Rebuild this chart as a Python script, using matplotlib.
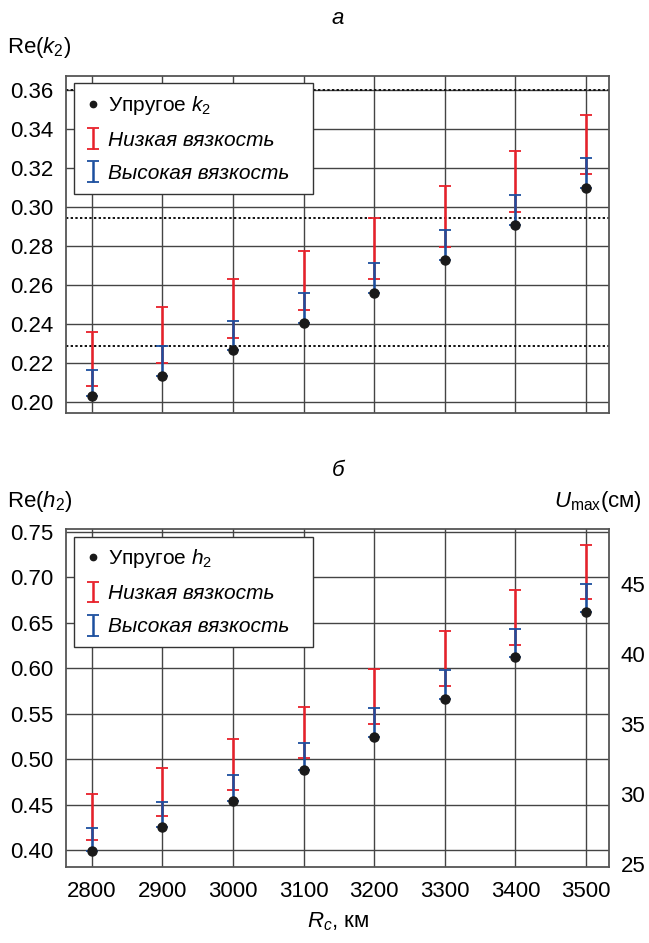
import numpy as np
import matplotlib
matplotlib.use("Agg")
import matplotlib.pyplot as plt

plt.rcParams['font.family'] = ['Liberation Sans', 'DejaVu Sans']
plt.rcParams['mathtext.fontset'] = 'custom'
plt.rcParams['mathtext.rm'] = 'Liberation Sans'
plt.rcParams['mathtext.it'] = 'Liberation Sans:italic'

# radius of the core, km
rc = [2800, 2900, 3000, 3100, 3200, 3300, 3400, 3500]

# panel a: Re(k2)
k2_elastic = [0.203, 0.2135, 0.2265, 0.2407, 0.2559, 0.2727, 0.2909, 0.3099]
k2_low_min = [0.2082, 0.2202, 0.2328, 0.2473, 0.2631, 0.2796, 0.2976, 0.3171]
k2_low_max = [0.236, 0.2486, 0.2629, 0.2774, 0.2945, 0.3109, 0.3285, 0.3472]
k2_high_max = [0.2163, 0.2289, 0.2417, 0.2557, 0.2714, 0.2882, 0.3063, 0.3253]
k2_levels = [0.229, 0.2945, 0.360]

# panel b: Re(h2)
h2_elastic = [0.3993, 0.4253, 0.4539, 0.4877, 0.5247, 0.5658, 0.6120, 0.6618]
h2_low_min = [0.4106, 0.4378, 0.4664, 0.5016, 0.5390, 0.5808, 0.6255, 0.6758]
h2_low_max = [0.4616, 0.4902, 0.5221, 0.5577, 0.5991, 0.6413, 0.6860, 0.7355]
h2_high_max = [0.4242, 0.4528, 0.4825, 0.5173, 0.5559, 0.5980, 0.6435, 0.6923]

# Umax (cm) = scale * h2
u_scale = 65.0

RED = '#e8202a'
BLUE = '#1c4f9f'
FS = 16

fig = plt.figure(figsize=(6.49, 9.43), dpi=100)
ax1 = fig.add_axes([0.1017, 0.5620, 0.8371, 0.3574])
ax2 = fig.add_axes([0.1017, 0.0809, 0.8371, 0.3578])


def draw_panel(ax, elastic, low_min, low_max, high_max, label):
    x = np.array(rc)
    el = np.array(elastic)
    lo = np.array(low_min)
    hi = np.array(low_max)
    hh = np.array(high_max)
    mid = (lo + hi) / 2
    e1 = ax.errorbar(x, mid, yerr=[mid - lo, hi - mid], fmt='none', ecolor=RED,
                     elinewidth=1.8, capsize=4.5, capthick=1.3, zorder=3)
    mid2 = (el + hh) / 2
    e2 = ax.errorbar(x, mid2, yerr=[mid2 - el, hh - mid2], fmt='none', ecolor=BLUE,
                     elinewidth=1.8, capsize=4.5, capthick=1.3, zorder=4)
    d, = ax.plot(x, el, 'o', color='#1a1a1a', markersize=6.5, zorder=5)
    ax.set_xlim(2763.5, 3533)
    ax.set_xticks(rc)
    ax.grid(True, color='#444444', linewidth=1.0, zorder=0)
    ax.set_axisbelow(True)
    ax.tick_params(length=0, labelsize=FS, pad=9)
    for s in ax.spines.values():
        s.set_color('#555555')
        s.set_linewidth(1.3)
    leg = ax.legend([d, e1, e2], [label, 'Низкая вязкость', 'Высокая вязкость'],
                    loc='upper left', bbox_to_anchor=(0.0147, 0.0, 0.4405, 0.978),
                    mode='expand', borderaxespad=0, markerscale=0.7,
                    fontsize=15, fancybox=False, framealpha=1, edgecolor='#333333',
                    handlelength=0.8, handletextpad=0.35, borderpad=0.5, labelspacing=0.68)
    leg.get_frame().set_linewidth(1.0)
    leg.set_zorder(10)
    for t in leg.get_texts()[1:]:
        t.set_fontstyle('italic')
    return leg


draw_panel(ax1, k2_elastic, k2_low_min, k2_low_max, k2_high_max, 'Упругое $k_2$')
ax1.set_ylim(0.1944, 0.3672)
yt1 = np.arange(0.20, 0.3601, 0.02)
ax1.set_yticks(yt1)
ax1.set_yticklabels([f'{v:.2f}' for v in yt1])
ax1.tick_params(axis='x', labelbottom=False)
for lv in k2_levels:
    ax1.axhline(lv, color='#111111', linestyle=(0, (1.2, 1.2)), linewidth=1.4, zorder=2)

draw_panel(ax2, h2_elastic, h2_low_min, h2_low_max, h2_high_max, 'Упругое $h_2$')
ax2.set_ylim(0.3817, 0.7528)
yt2 = np.arange(0.40, 0.7501, 0.05)
ax2.set_yticks(yt2)
ax2.set_yticklabels([f'{v:.2f}' for v in yt2])
ax2.tick_params(axis='x', pad=10)

ax3 = ax2.twinx()
ax3.set_ylim(0.3817 * u_scale, 0.7528 * u_scale)
ax3.set_yticks([25, 30, 35, 40, 45])
ax3.tick_params(length=0, labelsize=FS, pad=8)
for s in ax3.spines.values():
    s.set_visible(False)

fig.text(0.521, 1 - 19 / 943, 'а', fontsize=FS, style='italic', ha='center', va='center')
fig.text(7 / 649, 1 - 48 / 943, 'Re($k_2$)', fontsize=FS, ha='left', va='center')
fig.text(0.521, 1 - 470 / 943, 'б', fontsize=FS, style='italic', ha='center', va='center')
fig.text(7 / 649, 1 - 502 / 943, 'Re($h_2$)', fontsize=FS, ha='left', va='center')
fig.text(642 / 649, 1 - 501 / 943, '$U_{\\mathrm{max}}$(см)', fontsize=FS, ha='right', va='center')
fig.text(0.521, 1 - 922 / 943, '$R_c$, км', fontsize=FS, ha='center', va='center')

fig.savefig('out.png', dpi=100)
